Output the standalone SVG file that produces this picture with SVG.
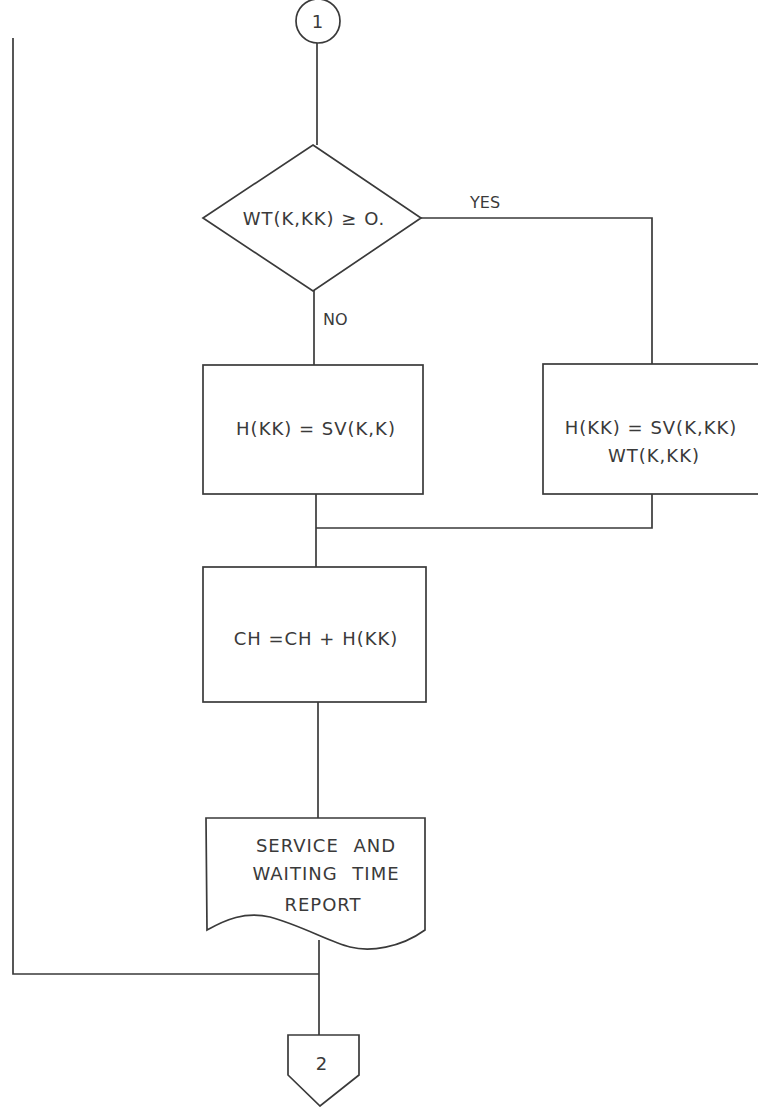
<svg xmlns="http://www.w3.org/2000/svg" width="758" height="1107" viewBox="0 0 758 1107">
<style>
.s{fill:none;stroke:#3a3a3a;stroke-width:1.7;stroke-linejoin:miter}
.t{font-family:"DejaVu Sans","Liberation Sans",sans-serif;font-size:18px;letter-spacing:1px;fill:#3a3a3a;text-anchor:middle}
.l{font-family:"DejaVu Sans","Liberation Sans",sans-serif;font-size:16px;fill:#3a3a3a}
</style>
<rect width="758" height="1107" fill="#ffffff"/>
<g id="connectors">
<path class="s" d="M317,43 V145"/>
<path class="s" d="M421,218 H652 V364"/>
<path class="s" d="M314,290 V365"/>
<path class="s" d="M652,494 V528 H316"/>
<path class="s" d="M316,494 V567"/>
<path class="s" d="M318,702 V818"/>
<path class="s" d="M319,940 V1035"/>
<path class="s" d="M13,38 V974 H319"/>
</g>
<g id="n1"><circle class="s" cx="318" cy="21" r="22"/><text class="t" x="318" y="28">1</text></g>
<g id="decision"><polygon class="s" points="313,145 421,218 313,291 203,218"/><text class="t" x="314" y="225">WT(K,KK) ≥ O.</text></g>
<text class="l" x="470" y="208">YES</text>
<text class="l" x="323" y="325">NO</text>
<g id="box_no"><rect class="s" x="203" y="365" width="220" height="129"/><text class="t" x="316" y="435">H(KK) = SV(K,K)</text></g>
<g id="box_yes"><rect class="s" x="543" y="364" width="216" height="130"/><text class="t" x="651" y="434">H(KK) = SV(K,KK)</text><text class="t" x="654" y="462">WT(K,KK)</text></g>
<g id="box_ch"><rect class="s" x="203" y="567" width="223" height="135"/><text class="t" x="316" y="645">CH =CH + H(KK)</text></g>
<g id="report"><path class="s" d="M206,818 H425 V930 C400,948 370,952 350,947 C330,942 300,925 270,917 C245,911 225,920 207,930 Z"/><text class="t" x="326" y="852" word-spacing="8">SERVICE AND</text><text class="t" x="326" y="880" word-spacing="8">WAITING TIME</text><text class="t" x="323" y="911">REPORT</text></g>
<g id="n2"><polygon class="s" points="288,1035 359,1035 359,1075 320,1106 288,1075"/><text class="t" x="322" y="1070">2</text></g>
</svg>
